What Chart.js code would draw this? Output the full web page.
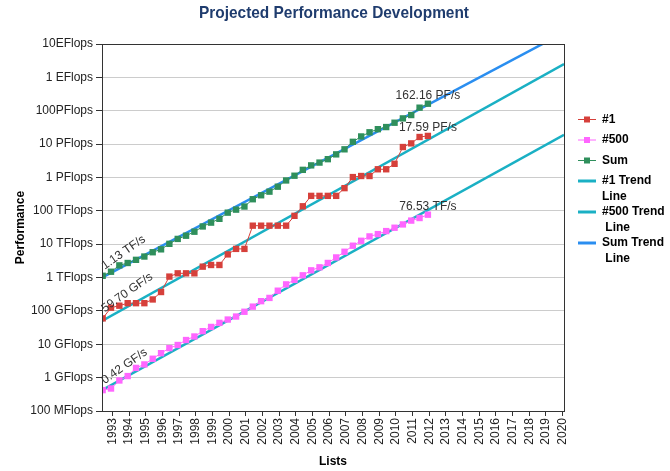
<!DOCTYPE html>
<html>
<head>
<meta charset="utf-8">
<title>Projected Performance Development</title>
<script src="https://cdn.jsdelivr.net/npm/chart.js@4.4.0/dist/chart.umd.min.js"></script>
<style>
  html, body { margin: 0; padding: 0; background: #fff; }
  #wrap { width: 670px; height: 471px; }
</style>
</head>
<body>
<div id="wrap"><canvas id="chart" width="670" height="471"></canvas></div>
<script>
// TOP500 list editions (June / November)
const lists = [
  'Jun 1993', 'Nov 1993', 'Jun 1994', 'Nov 1994', 'Jun 1995', 'Nov 1995', 'Jun 1996', 'Nov 1996',
  'Jun 1997', 'Nov 1997', 'Jun 1998', 'Nov 1998', 'Jun 1999', 'Nov 1999', 'Jun 2000', 'Nov 2000',
  'Jun 2001', 'Nov 2001', 'Jun 2002', 'Nov 2002', 'Jun 2003', 'Nov 2003', 'Jun 2004', 'Nov 2004',
  'Jun 2005', 'Nov 2005', 'Jun 2006', 'Nov 2006', 'Jun 2007', 'Nov 2007', 'Jun 2008', 'Nov 2008',
  'Jun 2009', 'Nov 2009', 'Jun 2010', 'Nov 2010', 'Jun 2011', 'Nov 2011', 'Jun 2012', 'Nov 2012'
];

// performance in GFlops
const top1 = [
  59.7, 124.5, 143.4, 170.4, 170.4, 170.4, 220.4, 368.2,
  1068, 1338, 1338, 1338, 2121, 2379, 2379, 4938,
  7226, 7226, 35860, 35860, 35860, 35860, 35860, 70720,
  136800, 280600, 280600, 280600, 280600, 478200, 1026000, 1105000,
  1105000, 1759000, 1759000, 2566000, 8162000, 10510000, 16320000, 17590000
];
const top500 = [
  0.422, 0.472, 0.822, 1.114, 1.956, 2.489, 3.683, 5.4,
  7.67, 9.51, 13.39, 17.12, 24.73, 33.08, 43.82, 55.09,
  67.78, 94.3, 134.3, 195.8, 245.1, 403.4, 624, 850.6,
  1166, 1646, 2026, 2737, 4005, 5929, 9000, 12640,
  17090, 20050, 24670, 31120, 39090, 50940, 60820, 76530
];
const sum = [
  1128.6, 1493, 2317, 2732, 3394, 4264, 5735, 7004,
  10240, 14380, 17930, 23630, 33960, 44270, 57590, 88110,
  108500, 134400, 222400, 292500, 375600, 528300, 813100, 1127000,
  1690000, 2300000, 2790000, 3530000, 4920000, 6970000, 11700000, 16950000,
  22600000, 27950000, 32400000, 43700000, 58880000, 74200000, 123400000, 162160000
];

// trend lines: value at start and end of the axis range (GFlops)
const trendYears = [1993.38, 2021.08];
const top1Trend = [50, 2.5e9];
const top500Trend = [0.42, 1.9e7];
const sumTrend = [1000, 2.2e10];

const startLabels = ['59.70 GF/s', '0.42 GF/s', '1.13 TF/s'];
const endLabels = ['17.59 PF/s', '76.53 TF/s', '162.16 PF/s'];

const tickYears = [
  '1993', '1994', '1995', '1996', '1997', '1998', '1999', '2000', '2001', '2002',
  '2003', '2004', '2005', '2006', '2007', '2008', '2009', '2010', '2011', '2012',
  '2013', '2014', '2015', '2016', '2017', '2018', '2019', '2020'
];
const yTickValues = [0.1, 1, 10, 100, 1e3, 1e4, 1e5, 1e6, 1e7, 1e8, 1e9, 1e10];
const yTickLabels = [
  '100 MFlops', '1 GFlops', '10 GFlops', '100 GFlops', '1 TFlops', '10 TFlops',
  '100 TFlops', '1 PFlops', '10 PFlops', '100PFlops', '1 EFlops', '10EFlops'
];

const legendLines = [['#1'], ['#500'], ['Sum'], ['#1 Trend', 'Line'], ['#500 Trend', ' Line'], ['Sum Trend', ' Line']];

const RED = '#d6403b', PINK = '#ff66ff', GREEN = '#2f8f5c', TEAL = '#1ab0c4', BLUE = '#2a8ef0';
const FONT = 'Arial, "Liberation Sans", sans-serif';

function listYear(l) {
  const [m, y] = l.split(' ');
  return Number(y) + (m === 'Jun' ? 0.42 : 0.92);
}
function pts(values) {
  return values.map((v, i) => ({ x: listYear(lists[i]), y: v }));
}
function trend(values) {
  return values.map((v, i) => ({ x: trendYears[i], y: v }));
}

const series = (label, data, color) => ({
  label: label, data: pts(data),
  borderColor: color, backgroundColor: color, borderWidth: 1,
  pointStyle: 'rect', pointRadius: 4.5, pointBorderWidth: 0,
  pointBackgroundColor: color, pointBorderColor: color
});
const trendLine = (label, data, color) => ({
  label: label, data: trend(data),
  borderColor: color, backgroundColor: color, borderWidth: 2.5, pointRadius: 0
});

const legendColors = [RED, PINK, GREEN, TEAL, TEAL, BLUE];

const extras = {
  id: 'extras',
  afterDatasetsDraw(chart) {
    const ctx = chart.ctx;
    const a = chart.chartArea;
    ctx.save();
    ctx.strokeStyle = '#333';
    ctx.lineWidth = 1;
    ctx.strokeRect(Math.round(a.left) + 0.5, Math.round(a.top) + 0.5,
      Math.round(a.right - a.left), Math.round(a.bottom - a.top));

    ctx.font = '12px ' + FONT;
    ctx.fillStyle = '#333';
    [0, 1, 2].forEach(i => {
      const d = chart.getDatasetMeta(i).data;
      const f = d[0], l = d[d.length - 1];
      ctx.save();
      ctx.translate(f.x + 2, f.y - 6);
      ctx.rotate(-35 * Math.PI / 180);
      ctx.textAlign = 'left';
      ctx.textBaseline = 'alphabetic';
      ctx.fillText(startLabels[i], 0, 0);
      ctx.restore();
      ctx.textAlign = 'center';
      ctx.textBaseline = 'alphabetic';
      ctx.fillText(endLabels[i], l.x, l.y - 5);
    });
    ctx.restore();
  },
  afterDraw(chart) {
    const ctx = chart.ctx;
    ctx.save();
    // title
    ctx.font = 'bold 17px "Liberation Sans Narrow", "Arial Narrow", ' + FONT;
    ctx.fillStyle = '#1f3c6e';
    ctx.textAlign = 'center';
    ctx.textBaseline = 'middle';
    const w = ctx.measureText('Projected Performance Development').width;
    ctx.translate(334, 13);
    ctx.scale(Math.min(1, 270 / w), 1);
    ctx.fillText('Projected Performance Development', 0, 0);
    ctx.restore();

    // legend
    ctx.save();
    ctx.font = 'bold 12px ' + FONT;
    ctx.textAlign = 'left';
    ctx.textBaseline = 'middle';
    let y = 119.5;
    legendLines.forEach((lines, i) => {
      const c = legendColors[i];
      ctx.strokeStyle = c;
      if (i < 3) {
        ctx.lineWidth = 1;
        ctx.beginPath(); ctx.moveTo(578, y); ctx.lineTo(596, y); ctx.stroke();
        ctx.fillStyle = c;
        ctx.fillRect(584, y - 3, 6, 6);
      } else {
        ctx.lineWidth = 3;
        ctx.beginPath(); ctx.moveTo(578, y); ctx.lineTo(596, y); ctx.stroke();
      }
      ctx.fillStyle = '#000';
      lines.forEach((t, k) => ctx.fillText(t, 602, y + k * 15.5));
      y += Math.max(20.5, lines.length * 15.5);
    });
    ctx.restore();
  }
};

Chart.defaults.font.family = FONT;
Chart.defaults.font.size = 12;
Chart.defaults.color = '#222';

new Chart(document.getElementById('chart').getContext('2d'), {
  type: 'line',
  data: {
    datasets: [
      series('#1', top1, RED),
      series('#500', top500, PINK),
      series('Sum', sum, GREEN),
      trendLine('#1 Trend Line', top1Trend, TEAL),
      trendLine('#500 Trend Line', top500Trend, TEAL),
      trendLine('Sum Trend Line', sumTrend, BLUE)
    ]
  },
  options: {
    responsive: false,
    animation: false,
    devicePixelRatio: 1,
    layout: { padding: { left: 0, top: 44, right: 106, bottom: 0 } },
    plugins: { legend: { display: false }, tooltip: { enabled: false } },
    scales: {
      x: {
        type: 'linear',
        min: 1993.38,
        max: 2021.08,
        afterBuildTicks: s => { s.ticks = tickYears.map(y => ({ value: Number(y) + 1 })); },
        afterFit: s => { s.height = 60; },
        ticks: {
          autoSkip: false, minRotation: 90, maxRotation: 90, padding: 2, color: '#222',
          callback: (v, i) => tickYears[i]
        },
        grid: { drawOnChartArea: false, drawTicks: true, tickLength: 5, tickColor: '#333' },
        border: { display: true, color: '#333' },
        title: { display: true, text: 'Lists', font: { weight: 'bold', size: 12 }, color: '#000', padding: { top: 0, bottom: 2 } }
      },
      y: {
        type: 'logarithmic',
        min: 0.1,
        max: 1e10,
        afterBuildTicks: s => { s.ticks = yTickValues.map(v => ({ value: v })); },
        afterFit: s => { s.width = 102; },
        ticks: { color: '#222', padding: 3, callback: (v, i) => yTickLabels[i] },
        grid: { color: '#cccccc', lineWidth: 1, drawTicks: true, tickLength: 6, tickColor: '#333' },
        border: { display: true, color: '#333' },
        title: { display: true, text: 'Performance', font: { weight: 'bold', size: 12 }, color: '#000', padding: { top: 13, bottom: 0 } }
      }
    }
  },
  plugins: [extras]
});
</script>
</body>
</html>
